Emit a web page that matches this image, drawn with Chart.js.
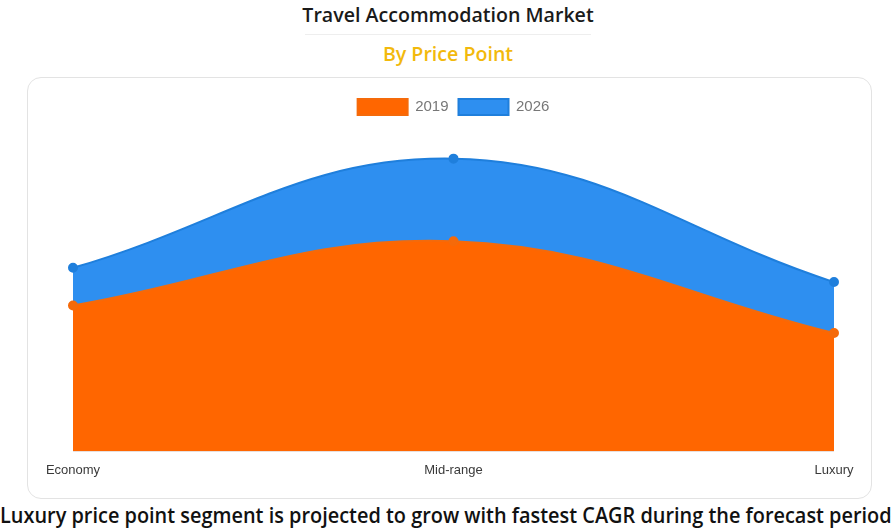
<!DOCTYPE html>
<html>
<head>
<meta charset="utf-8">
<script src="https://cdn.jsdelivr.net/npm/chart.js@4"></script>
<style>
  body { margin: 0; width: 896px; height: 528px; background: #fff; position: relative; overflow: hidden; font-family: "Open Sans", sans-serif; }
  #title { position: absolute; top: 1px; left: 0; width: 896px; text-align: center; font-size: 19.6px; font-weight: 600; color: #1a1a1a; }
  #rule { position: absolute; top: 34px; left: 305px; width: 286px; height: 1px; background: #eeeeee; }
  #sub { position: absolute; top: 40px; left: 0; width: 896px; text-align: center; font-size: 19.6px; font-weight: 600; color: #f2b90c; }
  #card { position: absolute; left: 27px; top: 77px; width: 843px; height: 420px; border: 1px solid #e3e3e3; border-radius: 14px; }
  #wrap { position: absolute; left: 28px; top: 78px; width: 843px; height: 419px; }
  #caption { position: absolute; top: 499px; left: 0; white-space: nowrap; font-size: 22px; font-weight: 600; color: #111; transform-origin: 0 0; }
</style>
</head>
<body>
<div id="title">Travel Accommodation Market</div>
<div id="rule"></div>
<div id="sub">By Price Point</div>
<div id="card"></div>
<div id="wrap"><canvas id="myChart" width="843" height="419"></canvas></div>
<div id="caption">Luxury price point segment is projected to grow with fastest CAGR during the forecast period</div>
<script>
const MY_CHART = document.querySelector("#myChart");

const categories = ['Economy', 'Mid-range', 'Luxury'];
const values2019 = [14.3, 20.6, 11.6];
const values2026 = [18.0, 28.7, 16.6];

const data = {
  labels: categories,
  datasets: [{
    label: '2019',
    data: values2019,
    fill: 'origin',
    backgroundColor: '#ff6600',
    borderColor: '#f56a0a',
    borderWidth: 2,
    pointRadius: 4,
    pointBackgroundColor: '#f56a0a',
    pointBorderColor: '#f56a0a',
    tension: 0.4
  }, {
    label: '2026',
    data: values2026,
    fill: 'origin',
    backgroundColor: '#2e8ff0',
    borderColor: '#1f7fdc',
    borderWidth: 2,
    pointRadius: 4,
    pointBackgroundColor: '#1f7fdc',
    pointBorderColor: '#1f7fdc',
    tension: 0.4
  }]
};

const CONFIG = {
  type: 'line',
  data: data,
  options: {
    responsive: false,
    animation: false,
    layout: { padding: { left: 45, right: 37, top: 11, bottom: 16 } },
    plugins: {
      legend: {
        labels: {
          boxWidth: 50,
          boxHeight: 16,
          color: '#777',
          font: { family: 'Liberation Sans', size: 15 }
        }
      },
      tooltip: { enabled: false }
    },
    scales: {
      x: {
        grid: { display: false },
        border: { display: false },
        ticks: { color: '#3a3a3a', font: { family: 'Liberation Sans', size: 13 }, maxRotation: 0 }
      },
      y: { display: false, min: 0, max: 32 }
    }
  }
};

const chart = new Chart(MY_CHART, CONFIG);

// squeeze the caption to the page width
const cap = document.querySelector('#caption');
cap.style.transform = 'scaleX(' + (892 / cap.offsetWidth) + ')';
</script>
</body>
</html>
